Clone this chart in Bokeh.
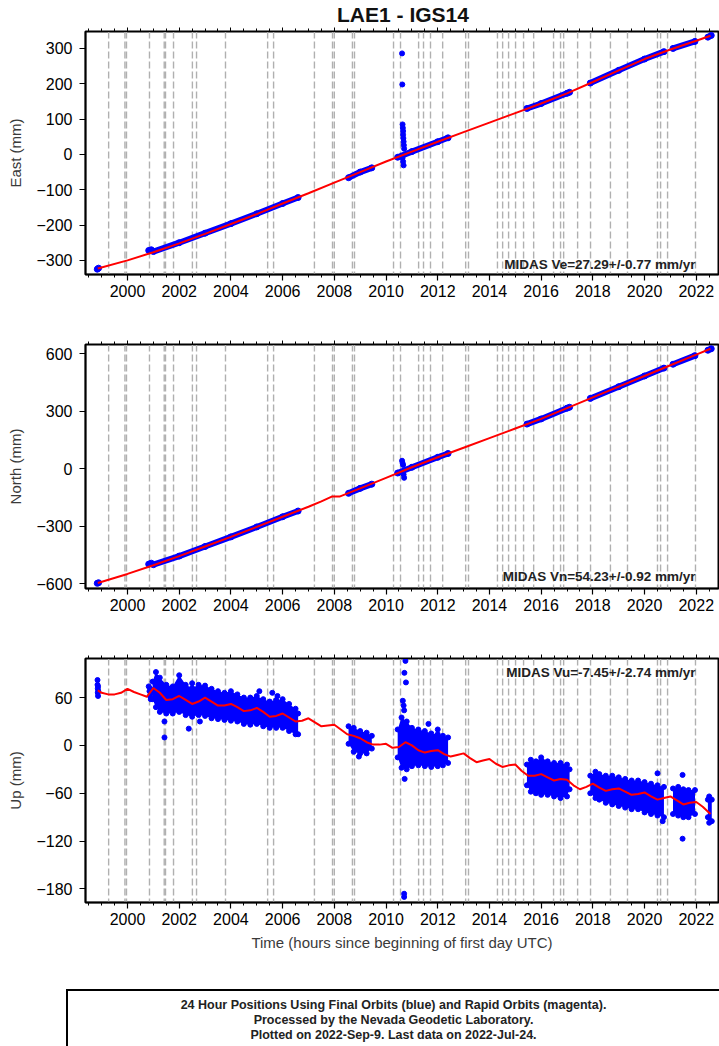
from bokeh.plotting import figure
from bokeh.layouts import column
from bokeh.models import Span, Label, LinearAxis, SingleIntervalTicker, Range1d, Div, CustomJSTickFormatter
from bokeh.embed import file_html
from bokeh.resources import INLINE

FONT = "Liberation Sans"

# ---------------- data ----------------
# Vertical dashed reference lines (decimal years)
event_years = [1999.27, 1999.90, 1999.96, 2000.85, 2001.42, 2001.47, 2001.78, 2002.51, 2002.67,
               2003.79, 2005.42, 2005.65, 2007.23, 2007.93, 2008.00, 2008.70, 2008.78,
               2010.29, 2010.56, 2011.26, 2011.45, 2011.72, 2012.19, 2013.08, 2013.19,
               2014.31, 2014.51, 2014.74, 2015.01, 2015.32, 2015.71, 2016.48, 2016.75,
               2016.87, 2017.41, 2017.91, 2018.68, 2019.34, 2020.50, 2020.62, 2020.89, 2021.97]

# Model fit (red) East, mm
east_fit_t = [1998.85, 2000, 2001, 2002, 2003, 2004, 2005, 2006, 2007, 2008, 2009, 2010,
              2011, 2012, 2013, 2014, 2015, 2016, 2017, 2018, 2019, 2020, 2021, 2022, 2022.55]
east_fit_v = [-323, -300, -277, -252, -225, -197, -169, -139, -110, -80, -50, -20,
              8, 36, 63, 90, 117, 144, 173, 205, 238, 270, 297, 322, 336]

# Model fit (red) North, mm
north_fit_t = [1998.85, 2000, 2001, 2002, 2003, 2004, 2005, 2006, 2007, 2007.5, 2007.9, 2008.2,
               2009, 2010, 2011, 2012, 2013, 2014, 2015, 2016, 2017, 2018, 2019, 2020, 2021,
               2022, 2022.55]
north_fit_v = [-595, -548, -503, -455, -405, -355, -303, -250, -198, -170, -145, -145,
               -102, -47, 8, 60, 110, 160, 210, 260, 316, 372, 428, 484, 540, 595, 626]

# Model fit (red) Up, mm
up_fit_t = [1998.85, 1999.0, 1999.25, 1999.5, 1999.75, 2000.0, 2000.25, 2000.5, 2000.75,
            2001.0, 2001.25, 2001.5, 2001.75, 2002.0, 2002.25, 2002.5, 2002.75, 2003.0,
            2003.25, 2003.5, 2003.75, 2004.0, 2004.25, 2004.5, 2004.75, 2005.0, 2005.25,
            2005.5, 2005.75, 2006.0, 2006.25, 2006.5, 2006.75, 2007.0, 2007.25, 2007.5,
            2007.75, 2008.0, 2008.25, 2008.5, 2008.75, 2009.0, 2009.25, 2009.5, 2009.75,
            2010.0, 2010.25, 2010.5, 2010.75, 2011.0, 2011.25, 2011.5, 2011.75, 2012.0,
            2012.25, 2012.5, 2012.75, 2013.0, 2013.25, 2013.5, 2013.75, 2014.0, 2014.25,
            2014.5, 2014.75, 2015.0, 2015.25, 2015.5, 2015.75, 2016.0, 2016.25, 2016.5,
            2016.75, 2017.0, 2017.25, 2017.5, 2017.75, 2018.0, 2018.25, 2018.5, 2018.75,
            2019.0, 2019.25, 2019.5, 2019.75, 2020.0, 2020.25, 2020.5, 2020.75, 2021.0,
            2021.25, 2021.5, 2021.75, 2022.0, 2022.25, 2022.55]
up_fit_v = [69, 66, 64, 64, 66, 71, 67, 64, 61,
            72, 66, 57, 58, 62, 57, 52, 55, 60,
            55, 50, 50, 52, 48, 43, 44, 47, 42,
            36, 37, 40, 35, 30, 31, 34, 29, 24,
            25, 26, 20, 14, 12, 9, 4, 1, 1,
            2, -3, -2, 4, 0, -6, -9, -7, -6,
            -11, -14, -12, -10, -16, -21, -19, -17, -23,
            -27, -25, -24, -32, -38, -38, -36, -40, -44,
            -42, -43, -50, -55, -52, -48, -53, -57, -55,
            -54, -58, -62, -61, -59, -64, -68, -66, -64,
            -69, -74, -72, -71, -77, -86]

# Daily positions (blue), East/North: segments of observed data
obs_seg_t = [[1998.83, 1998.88], [2000.82, 2000.92],
             [2001.0, 2002.0, 2003.0, 2004.0, 2005.0, 2006.0, 2006.6],
             [2008.55, 2009.0, 2009.45], [2010.45, 2011.0, 2012.0, 2012.4],
             [2015.45, 2016.0, 2017.0, 2017.1], [2017.9, 2019.0, 2020.0, 2020.75],
             [2021.1, 2021.95], [2022.45, 2022.58]]
east_obs_v = [[-325, -322], [-272, -270],
              [-275, -250, -223, -196, -168, -139, -122],
              [-66, -50, -38], [-8, 8, 36, 47],
              [130, 144, 173, 176], [202, 238, 270, 291],
              [300, 320], [332, 337]]
north_obs_v = [[-597, -594], [-497, -492],
               [-500, -455, -405, -355, -303, -250, -220],
               [-128, -102, -80], [-22, 8, 60, 80],
               [233, 260, 316, 321], [367, 428, 484, 525],
               [545, 590], [618, 626]]

# Outlying East / North positions
east_out_t = [2010.62, 2010.63, 2010.64, 2010.65, 2010.66, 2010.66, 2010.67, 2010.68, 2010.69,
              2010.70, 2010.64, 2010.66, 2010.68]
east_out_v = [286, 198, 85, 75, 66, 56, 46, 36, 26, 16, -10, -20, -31]
north_out_t = [2010.62, 2010.64, 2010.66, 2010.68, 2010.70]
north_out_v = [42, 30, 20, -30, -47]

# Up daily positions: band (upper/lower envelope) per data segment
up_band_t = [[2000.97, 2001.1, 2001.25, 2001.5, 2001.75, 2002.0, 2002.25, 2002.5, 2002.75, 2003.0,
              2003.25, 2003.5, 2003.75, 2004.0, 2004.25, 2004.5, 2004.75, 2005.0, 2005.25,
              2005.5, 2005.75, 2006.0, 2006.25, 2006.5, 2006.6],
             [2008.55, 2008.75, 2009.0, 2009.25, 2009.45],
             [2010.45, 2010.6, 2010.8, 2011.0, 2011.25, 2011.5, 2011.75, 2012.0, 2012.2, 2012.4],
             [2015.45, 2015.6, 2015.8, 2016.0, 2016.25, 2016.5, 2016.75, 2017.0, 2017.1],
             [2017.9, 2018.1, 2018.25, 2018.5, 2018.75, 2019.0, 2019.25, 2019.5, 2019.75,
              2020.0, 2020.25, 2020.5, 2020.75],
             [2021.1, 2021.3, 2021.5, 2021.7, 2021.95],
             [2022.45, 2022.5, 2022.6]]
up_band_hi = [[80, 92, 85, 76, 74, 88, 76, 72, 76, 75, 71, 68, 66, 68, 64, 60, 60, 62, 58,
               55, 57, 58, 52, 46, 40],
              [24, 22, 18, 16, 12],
              [20, 35, 30, 22, 20, 18, 15, 14, 12, 10],
              [-24, -18, -20, -15, -20, -22, -22, -24, -30],
              [-38, -33, -36, -38, -38, -40, -42, -44, -44, -46, -48, -50, -52],
              [-54, -52, -55, -56, -56],
              [-68, -64, -68]]
up_band_lo = [[58, 48, 42, 40, 40, 42, 38, 36, 38, 37, 34, 33, 32, 31, 30, 27, 26, 27, 24,
               22, 22, 22, 18, 14, 14],
              [2, -8, -10, -10, -4],
              [-15, -28, -30, -26, -25, -26, -27, -26, -25, -22],
              [-50, -58, -60, -62, -62, -64, -66, -64, -55],
              [-60, -66, -68, -72, -74, -76, -78, -80, -80, -84, -86, -88, -90],
              [-86, -88, -90, -90, -86],
              [-90, -97, -95]]

# Up individual / outlying positions
up_pts_t = [1998.84, 1998.84, 1998.85, 1998.85, 1998.86, 1998.86, 1998.87,
            2000.82, 2000.85, 2000.87, 2000.90, 2000.92, 2000.88,
            2001.43, 2001.43, 2002.37, 2002.50, 2005.10, 2005.60, 2005.80, 2002.80,
            2008.95,
            2010.75, 2010.71, 2010.77, 2010.65, 2010.68, 2010.70, 2010.72, 2010.70, 2010.70,
            2011.64, 2012.00,
            2020.50, 2020.70, 2021.47, 2021.47]
up_pts_v = [82, 76, 71, 66, 62, 74, 68,
            74, 68, 62, 58, 66, 71,
            10, 30, 21, 78, 68, 66, 62, 30,
            -14,
            106, 91, 79, 56, 50, 44, -42, -186, -190,
            27, 20,
            -35, -95, -37, -117]

title_text = "LAE1 - IGS14"
footer_lines = ["24 Hour Positions Using Final Orbits (blue) and Rapid Orbits (magenta).",
                "Processed by the Nevada Geodetic Laboratory.",
                "Plotted on 2022-Sep-9. Last data on 2022-Jul-24."]

# ---------------- plotting ----------------
X0, X1 = 1998.375, 2022.86
W = 719


def style_panel(p, ytick):
    p.xgrid.visible = False
    p.ygrid.visible = False
    p.outline_line_color = "black"
    p.outline_line_width = 2
    p.outline_line_alpha = 1
    p.xaxis.ticker = SingleIntervalTicker(interval=2, num_minor_ticks=4)
    p.yaxis.ticker = SingleIntervalTicker(interval=ytick, num_minor_ticks=0)
    for ax in p.xaxis + p.yaxis:
        ax.axis_line_color = "black"
        ax.axis_line_width = 1.5
        ax.major_tick_line_color = "black"
        ax.major_tick_line_width = 1.2
        ax.major_tick_in = 0
        ax.major_tick_out = 6
        ax.minor_tick_in = 0
        ax.minor_tick_out = 3
        ax.minor_tick_line_color = "black"
        ax.major_label_text_font = FONT
        ax.major_label_text_font_size = "16px"
        ax.major_label_text_color = "#000000"
        ax.axis_label_text_font = FONT
        ax.axis_label_text_font_style = "normal"
        ax.axis_label_text_font_size = "15px"
        ax.axis_label_text_color = "#3a3a3a"
    p.yaxis.axis_label_standoff = 9
    p.yaxis.major_label_standoff = 7
    p.xaxis.major_label_standoff = 4
    top = LinearAxis(ticker=SingleIntervalTicker(interval=2, num_minor_ticks=4),
                     formatter=CustomJSTickFormatter(code="return ''"),
                     major_label_text_font_size="1px", axis_line_color="black",
                     major_tick_in=0, major_tick_out=4, minor_tick_in=0, minor_tick_out=3,
                     major_label_standoff=0)
    p.add_layout(top, "above")
    for yr in event_years:
        p.add_layout(Span(location=yr, dimension="height", line_color="#b0b0b0",
                          line_dash="7 3", line_width=1.4, level="underlay"))


def panel(ylabel, yrange, ytick, top_border, bottom_border, frame_h):
    p = figure(width=W, height=top_border + frame_h + bottom_border,
               x_range=Range1d(X0, X1), y_range=Range1d(*yrange),
               output_backend="svg", toolbar_location=None,
               min_border_left=85, min_border_right=1,
               min_border_top=top_border, min_border_bottom=bottom_border)
    p.yaxis.axis_label = ylabel
    style_panel(p, ytick)
    return p


title = Div(text=title_text, width=632, height=24, margin=(0, 0, 0, 87),
            styles={"font-family": FONT, "font-size": "21px", "font-weight": "bold",
                    "text-align": "center", "line-height": "20px", "color": "#111111",
                    "padding-top": "5px", "box-sizing": "border-box",
                    "overflow": "visible", "white-space": "nowrap"})

MIDAS_STYLE = dict(text_font=FONT, text_font_style="bold", text_font_size="13.5px",
                   text_color="#222222", text_align="right")

# East
p1 = panel("East (mm)", (-340, 348), 100, 7, 46, 243)
for t, v in zip(obs_seg_t, east_obs_v):
    p1.line(t, v, line_color="blue", line_width=6)
    p1.scatter(t, v, size=6, color="blue")
p1.scatter(east_out_t, east_out_v, size=5, color="blue")
p1.line(east_fit_t, east_fit_v, line_color="red", line_width=2)
p1.add_layout(Label(x=2021.97, y=-334, text="MIDAS Ve=27.29+/-0.77 mm/yr",
                    text_baseline="bottom", **MIDAS_STYLE))

# North
p2 = panel("North (mm)", (-624, 648), 300, 24, 46, 244)
for t, v in zip(obs_seg_t, north_obs_v):
    p2.line(t, v, line_color="blue", line_width=6)
    p2.scatter(t, v, size=6, color="blue")
p2.scatter(north_out_t, north_out_v, size=5, color="blue")
p2.line(north_fit_t, north_fit_v, line_color="red", line_width=2)
p2.add_layout(Label(x=2021.97, y=-598, text="MIDAS Vn=54.23+/-0.92 mm/yr",
                    text_baseline="bottom", **MIDAS_STYLE))

# Up
p3 = panel("Up (mm)", (-197, 109), 60, 24, 60, 244)
for t, hi, lo in zip(up_band_t, up_band_hi, up_band_lo):
    p3.varea(x=t, y1=lo, y2=hi, fill_color="blue")
    p3.scatter(t, hi, size=5, color="blue")
    p3.scatter(t, lo, size=5, color="blue")
p3.scatter(up_pts_t, up_pts_v, size=5, color="blue")
p3.line(up_fit_t, up_fit_v, line_color="red", line_width=2)
p3.below[0].axis_label = "Time (hours since beginning of first day UTC)"
p3.below[0].axis_label_standoff = 6
p3.add_layout(Label(x=2021.97, y=101, text="MIDAS Vu=-7.45+/-2.74 mm/yr",
                    text_baseline="top", **MIDAS_STYLE))

# Footer box
footer = Div(text="<br>".join(footer_lines), width=W - 66, height=57, margin=(27, 0, 0, 66),
             styles={"font-family": FONT, "font-size": "12.5px", "font-weight": "bold",
                     "text-align": "center", "line-height": "15px", "color": "#222222",
                     "border-top": "2px solid black", "border-left": "2px solid black",
                     "padding-top": "7px", "box-sizing": "border-box", "overflow": "hidden",
                     "white-space": "nowrap"})

layout = column(title, p1, p2, p3, footer, spacing=0)
open("out.html", "w").write(file_html(layout, INLINE))
